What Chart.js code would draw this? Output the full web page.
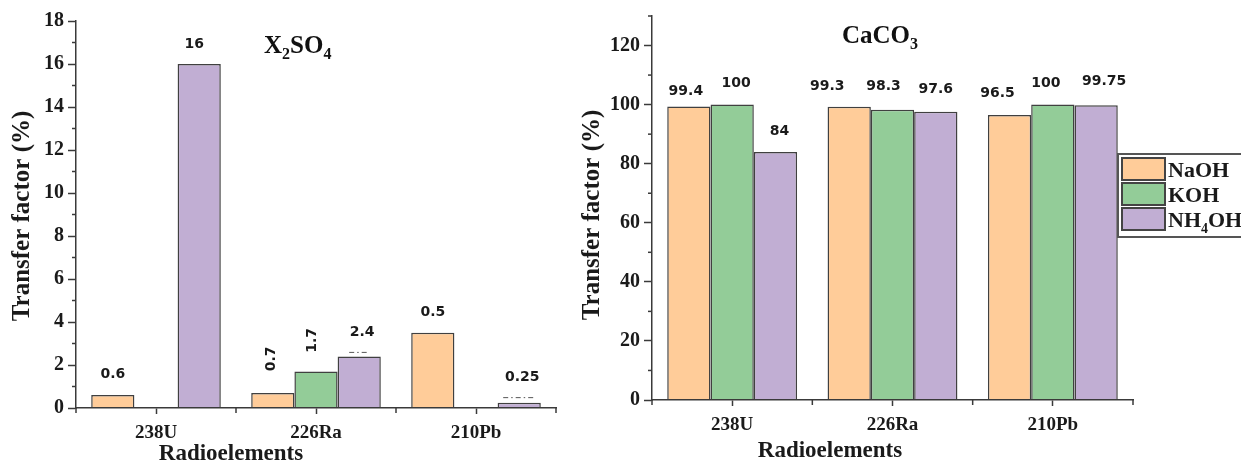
<!DOCTYPE html>
<html>
<head>
<meta charset="utf-8">
<script src="https://cdn.jsdelivr.net/npm/chart.js@4.4.1/dist/chart.umd.min.js"></script>
<style>
  html, body { margin: 0; padding: 0; background: #fff; }
  #wrap { position: relative; width: 1241px; height: 470px; overflow: hidden; }
  canvas { position: absolute; top: 0; }
  #c1 { left: 0; }
  #c2 { left: 570px; }
</style>
</head>
<body>
<div id="wrap">
  <canvas id="c1" width="570" height="470"></canvas>
  <canvas id="c2" width="671" height="470"></canvas>
</div>
<script>
const categories = ['238U', '226Ra', '210Pb'];
const seriesNames = ['NaOH', 'KOH', 'NH4OH'];

// X2SO4 panel
const so4NaOH = [0.6, 0.7, 3.5];
const so4KOH = [null, 1.7, null];
const so4NH4OH = [16, 2.4, 0.25];
const so4LabelNaOH = ['0.6', '0.7', '0.5'];
const so4LabelKOH = [null, '1.7', null];
const so4LabelNH4OH = ['16', '2.4', '0.25'];
const so4Ticks = { min: 0, max: 18, step: 2 };

// CaCO3 panel
const caNaOH = [99.4, 99.3, 96.5];
const caKOH = [100, 98.3, 100];
const caNH4OH = [84, 97.6, 99.75];
const caLabelNaOH = ['99.4', '99.3', '96.5'];
const caLabelKOH = ['100', '98.3', '100'];
const caLabelNH4OH = ['84', '97.6', '99.75'];
const caTicks = { min: 0, max: 130, step: 20 };

const fills = ['#FFCC99', '#93CC98', '#C1AED3'];
const INK = '#1a1a1a';
const AXIS = '#3a3a3a';
const SERIF = "'Liberation Serif', 'Times New Roman', serif";
const SANS = "'DejaVu Sans', Verdana, sans-serif";

// split "NH4OH" -> [["NH",false],["4",true],["OH",false]]
function subParts(str) {
  return str.split(/(\d+)/).filter(s => s).map(s => [s, /^\d+$/.test(s)]);
}

function richText(ctx, str, x, y, size, align) {
  const parts = subParts(str);
  const subSize = Math.round(size * 0.65);
  const widths = parts.map(p => {
    ctx.font = 'bold ' + (p[1] ? subSize : size) + 'px ' + SERIF;
    return ctx.measureText(p[0]).width;
  });
  const total = widths.reduce((a, b) => a + b, 0);
  let cx = align === 'center' ? x - total / 2 : x;
  ctx.textAlign = 'left';
  ctx.textBaseline = 'alphabetic';
  parts.forEach((p, i) => {
    ctx.font = 'bold ' + (p[1] ? subSize : size) + 'px ' + SERIF;
    ctx.fillText(p[0], cx, p[1] ? y + size * 0.25 : y);
    cx += widths[i];
  });
}

function stroke(ctx, x1, y1, x2, y2) {
  ctx.beginPath();
  ctx.moveTo(x1, y1);
  ctx.lineTo(x2, y2);
  ctx.stroke();
}

const decor = {
  id: 'decor',
  afterDraw(chart, args, o) {
    const ctx = chart.ctx;
    const xs = chart.scales.x, ys = chart.scales.y;
    const area = chart.chartArea;
    ctx.save();
    ctx.strokeStyle = AXIS;
    ctx.lineWidth = 1.5;

    // minor ticks on y
    const st = ys.options.ticks.stepSize;
    for (let v = ys.min + st / 2; v <= ys.max + 1e-9; v += st) {
      const py = ys.getPixelForValue(v);
      stroke(ctx, area.left - 4, py, area.left, py);
    }
    // ticks between categories on x
    const half = (xs.getPixelForValue(1) - xs.getPixelForValue(0)) / 2;
    for (let i = 0; i <= chart.data.labels.length; i++) {
      const px = xs.getPixelForValue(i) - half;
      stroke(ctx, px, area.bottom, px, area.bottom + 5);
    }

    // dash-dot remnants above some bars
    ctx.lineWidth = 1;
    ctx.strokeStyle = '#555';
    ctx.setLineDash([5, 3, 1.5, 3]);
    (o.dashes || []).forEach(([d, i, hw, rise]) => {
      const bar = chart.getDatasetMeta(d).data[i];
      stroke(ctx, bar.x - hw, bar.y - rise, bar.x + hw, bar.y - rise);
    });
    ctx.setLineDash([]);

    // value labels
    ctx.fillStyle = INK;
    ctx.font = 'bold 14px ' + SANS;
    ctx.textAlign = 'center';
    ctx.textBaseline = 'middle';
    o.labels.forEach((row, d) => {
      const meta = chart.getDatasetMeta(d);
      row.forEach((txt, i) => {
        if (txt === null) return;
        const bar = meta.data[i];
        const [dx, dy, rot] = o.offsets[d][i];
        ctx.save();
        ctx.translate(bar.x + dx, bar.y - dy);
        if (rot) ctx.rotate(-Math.PI / 2);
        ctx.fillText(txt, 0, 0);
        ctx.restore();
      });
    });

    // panel title
    ctx.fillStyle = '#111';
    richText(ctx, o.title.text, o.title.x, o.title.y, 25, 'left');

    // axis titles
    ctx.fillStyle = INK;
    ctx.font = 'bold 25px ' + SERIF;
    ctx.textAlign = 'center';
    ctx.textBaseline = 'middle';
    ctx.save();
    ctx.translate(o.yTitle.x, o.yTitle.y);
    ctx.rotate(-Math.PI / 2);
    ctx.fillText('Transfer factor (%)', 0, 0);
    ctx.restore();
    ctx.font = 'bold 23px ' + SERIF;
    ctx.textBaseline = 'alphabetic';
    ctx.fillText('Radioelements', o.xTitle.x, o.xTitle.y);

    // legend
    if (o.legend) {
      const L = o.legend;
      ctx.fillStyle = '#fff';
      ctx.fillRect(L.x, L.y, L.w, L.h);
      ctx.strokeStyle = '#555';
      ctx.lineWidth = 2;
      ctx.strokeRect(L.x, L.y, L.w, L.h);
      chart.data.datasets.forEach((ds, k) => {
        const top = L.y + 4 + k * 25;
        ctx.fillStyle = ds.backgroundColor;
        ctx.fillRect(L.x + 4, top, 43, 22);
        ctx.strokeStyle = '#444';
        ctx.lineWidth = 2;
        ctx.strokeRect(L.x + 4, top, 43, 22);
        ctx.fillStyle = INK;
        richText(ctx, ds.label, L.x + 50, top + 19, 22, 'left');
      });
    }
    ctx.restore();
  }
};

function makeChart(id, values, ticks, layout, decorOpts) {
  return new Chart(document.getElementById(id), {
    type: 'bar',
    data: {
      labels: categories,
      datasets: values.map((v, k) => ({
        label: seriesNames[k],
        data: v,
        backgroundColor: fills[k],
        borderColor: '#404040',
        borderWidth: 1.5,
        categoryPercentage: 0.81,
        barPercentage: 1,
      })),
    },
    options: {
      responsive: false,
      animation: false,
      layout: { padding: layout.padding },
      plugins: {
        legend: { display: false },
        tooltip: { enabled: false },
        decor: decorOpts,
      },
      scales: {
        x: {
          afterFit: s => { s.height = layout.xHeight; },
          grid: { display: true, drawOnChartArea: false, offset: false, tickLength: 6, color: AXIS, tickWidth: 1.5 },
          border: { display: true, color: AXIS, width: 1.5, z: 1 },
          ticks: { color: INK, padding: 8, font: { family: SERIF, weight: 'bold', size: 19 } },
        },
        y: {
          min: ticks.min,
          max: ticks.max,
          afterFit: s => { s.width = layout.yWidth; },
          grid: { display: true, drawOnChartArea: false, tickLength: 8, color: AXIS, tickWidth: 1.5 },
          border: { display: true, color: AXIS, width: 1.5, z: 1 },
          ticks: {
            stepSize: ticks.step,
            includeBounds: false,
            color: INK,
            padding: 4,
            font: { family: SERIF, weight: 'bold', size: 20 },
          },
        },
      },
    },
    plugins: [decor],
  });
}

makeChart('c1', [so4NaOH, so4KOH, so4NH4OH], so4Ticks,
  { padding: { top: 21, right: 14, left: 0, bottom: 0 }, xHeight: 62, yWidth: 76 },
  {
    labels: [so4LabelNaOH, so4LabelKOH, so4LabelNH4OH],
    // [dx, dy above bar top, rotated]
    offsets: [
      [[0, 21, false], [-1, 34, true], [0, 20, false]],
      [[0, 0, false], [-4, 31, true], [0, 0, false]],
      [[-5, 20, false], [3, 24, false], [3, 25, false]],
    ],
    dashes: [[2, 1, 10, 4], [2, 2, 16, 5]],
    title: { text: 'X2SO4', x: 264, y: 53 },
    yTitle: { x: 23, y: 216 },
    xTitle: { x: 231, y: 460 },
  });

makeChart('c2', [caNaOH, caKOH, caNH4OH], caTicks,
  { padding: { top: 12, right: 108, left: 0, bottom: 0 }, xHeight: 70, yWidth: 82 },
  {
    labels: [caLabelNaOH, caLabelKOH, caLabelNH4OH],
    offsets: [
      [[-3, 15, false], [-22, 20, false], [-12, 22, false]],
      [[4, 21, false], [-9, 23, false], [-7, 21, false]],
      [[4, 21, false], [0, 22, false], [8, 24, false]],
    ],
    dashes: [],
    title: { text: 'CaCO3', x: 272, y: 43 },
    yTitle: { x: 23, y: 215 },
    xTitle: { x: 260, y: 457 },
    legend: { x: 548, y: 154, w: 130, h: 83 },
  });
</script>
</body>
</html>
